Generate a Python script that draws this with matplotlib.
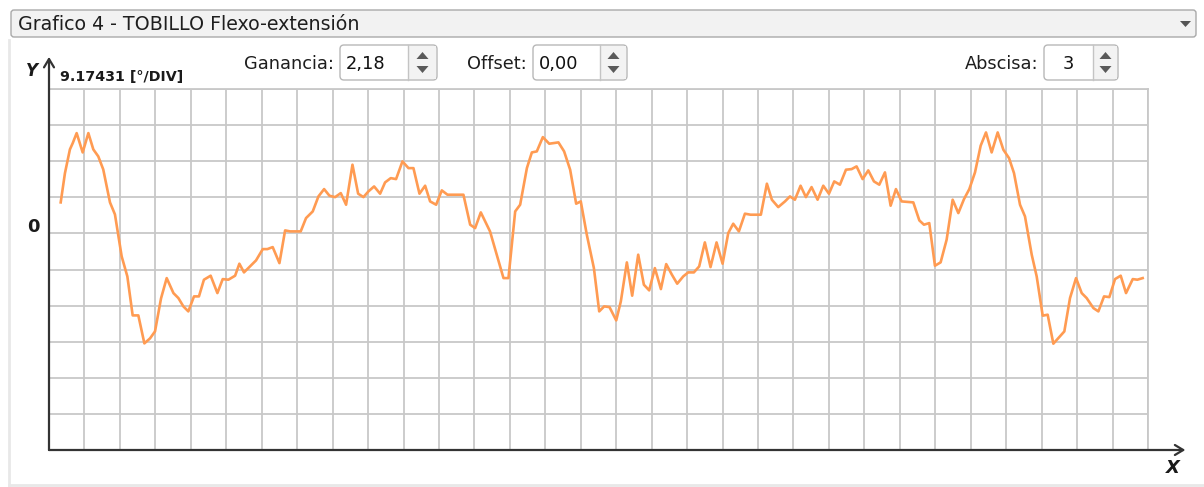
import matplotlib
matplotlib.use("Agg")
import matplotlib.pyplot as plt
import numpy as np
from matplotlib.patches import FancyBboxPatch, Rectangle, Polygon

# ankle flexion-extension trace, x in time divisions, y in degrees
DEG_PER_DIV = 9.17431
t_div = [0.33, 0.45, 0.59, 0.67, 0.78, 0.95, 1.11, 1.25, 1.39, 1.53, 1.72, 1.86,
         2.05, 2.21, 2.36, 2.52, 2.69, 2.85, 2.99, 3.16, 3.32, 3.51, 3.65, 3.79,
         3.93, 4.09, 4.23, 4.37, 4.56, 4.75, 4.90, 5.06, 5.25, 5.37, 5.50, 5.67,
         5.84, 6.03, 6.16, 6.31, 6.50, 6.66, 6.80, 7.10, 7.25, 7.44, 7.60, 7.76,
         7.91, 8.07, 8.23, 8.38, 8.56, 8.72, 8.87, 9.01, 9.17, 9.34, 9.48, 9.64,
         9.79, 9.97, 10.14, 10.28, 10.45, 10.61, 10.75, 10.92, 11.08, 11.24, 11.69,
         11.88, 12.02, 12.18, 12.44, 12.82, 12.96, 13.15, 13.29, 13.48, 13.62,
         13.76, 13.93, 14.11, 14.37, 14.53, 14.70, 14.87, 15.00, 15.17, 15.37,
         15.52, 15.66, 15.81, 16.00, 16.13, 16.30, 16.45, 16.62, 16.78, 16.93,
         17.09, 17.26, 17.41, 17.57, 17.72, 17.89, 18.03, 18.19, 18.34, 18.50,
         18.66, 18.83, 19.00, 19.16, 19.30, 19.46, 19.63, 19.79, 20.08, 20.25,
         20.39, 20.57, 20.76, 20.90, 21.04, 21.20, 21.35, 21.51, 21.68, 21.84,
         22.00, 22.15, 22.31, 22.48, 22.64, 22.78, 22.95, 23.11, 23.27, 23.42,
         23.58, 23.74, 23.89, 24.05, 24.38, 24.55, 24.68, 24.83, 24.99, 25.15,
         25.32, 25.49, 25.65, 25.81, 25.96, 26.12, 26.28, 26.43, 26.59, 26.76,
         26.92, 27.08, 27.22, 27.39, 27.53, 27.72, 27.86, 28.03, 28.17, 28.33,
         28.47, 28.64, 28.80, 28.97, 29.13, 29.27, 29.46, 29.60, 29.76, 29.91,
         30.07, 30.23, 30.38, 30.57, 30.70, 30.85]
angle_deg = [7.88, 15.32, 21.35, 22.95, 25.49, 20.58, 25.49, 21.35, 19.57, 16.26,
             7.88, 4.83, -5.85, -10.93, -20.84, -20.84, -27.95, -26.68, -24.91,
             -16.52, -11.36, -15.17, -16.44, -18.55, -19.82, -16.01, -16.01, -11.77,
             -10.75, -15.17, -11.61, -11.77, -10.75, -7.70, -9.91, -8.39, -6.86,
             -3.99, -3.99, -3.48, -7.55, 0.76, 0.51, 0.51, 3.89, 5.59, 9.40, 11.26,
             9.58, 9.22, 10.24, 7.29, 17.46, 10.09, 9.22, 10.67, 11.94, 10.09, 12.96,
             14.05, 13.80, 18.30, 16.59, 16.59, 10.09, 12.12, 8.13, 7.29, 10.93, 9.83,
             9.83, 2.21, 1.35, 5.34, 0.51, -11.36, -11.36, 5.59, 7.29, 16.59, 20.58,
             20.84, 24.47, 22.79, 23.13, 20.84, 16.19, 7.55, 8.13, -0.33, -8.82,
             -19.82, -18.55, -18.73, -22.11, -17.28, -7.37, -15.83, -5.41, -13.04,
             -14.48, -8.82, -14.15, -7.80, -10.49, -12.78, -10.93, -9.91, -9.91,
             -8.39, -2.29, -8.56, -2.29, -7.70, 0.08, 2.46, 0.51, 5.01, 4.75, 4.75,
             12.63, 8.56, 6.68, 8.13, 9.40, 8.56, 12.12, 9.22, 11.77, 8.56, 12.12,
             10.09, 13.21, 12.38, 16.19, 16.34, 17.03, 13.80, 16.01, 13.21, 12.38,
             15.50, 7.04, 11.26, 8.13, 7.88, 3.30, 2.21, 2.62, -8.21, -7.37, -1.60,
             8.56, 5.16, 8.72, 11.26, 15.50, 22.29, 25.66, 20.58, 25.66, 21.27, 19.13,
             15.32, 7.29, 4.32, -5.41, -10.93, -20.91, -20.66, -28.03, -26.61, -24.91,
             -16.44, -11.36, -15.17, -16.44, -18.98, -19.82, -16.01, -16.19, -11.61,
             -10.75, -15.17, -11.61, -11.77, -11.36]

x_divs = 31
y_divs_below, y_divs_above = 6, 4

title = "Grafico 4 - TOBILLO Flexo-extensión"
gain_text, offset_text, abscissa_text = "2,18", "0,00", "3"

W, H = 1204, 487
UI_FONT = "DejaVu Sans"
UI_SIZE = 12.8

fig = plt.figure(figsize=(W / 100, H / 100), dpi=100)
fig.patch.set_facecolor("white")

# overlay in pixel coordinates for the widgets
ui = fig.add_axes([0, 0, 1, 1], zorder=0)
ui.set_xlim(0, W)
ui.set_ylim(H, 0)
ui.axis("off")

# panel frame
ui.plot([9, 9], [40, 485], color="#e8e8e8", lw=2)
ui.plot([9, 1204], [485, 485], color="#e8e8e8", lw=2)

# combo box with the chart title
ui.add_patch(FancyBboxPatch((11, 10), 1185, 27, boxstyle="round,pad=0,rounding_size=3",
                            fc="#f2f2f2", ec="#a9a9a9", lw=1))
ui.text(18, 24, title, fontsize=13.7, family=UI_FONT, va="center", ha="left", color="#1e1e1e")
ui.add_patch(Polygon([[1180, 21], [1191, 21], [1185.5, 27]], closed=True, fc="#555555", ec="none"))


def spin_box(label, label_right, x0, x_div, x1, value, value_x, value_ha):
    y0, y1 = 45, 80
    ui.text(label_right, 64, label, fontsize=UI_SIZE, family=UI_FONT, ha="right", va="center",
            color="#1e1e1e")
    ui.add_patch(FancyBboxPatch((x0, y0), x1 - x0, y1 - y0, boxstyle="round,pad=0,rounding_size=4",
                                fc="white", ec="#b8b8b8", lw=1))
    ui.add_patch(Rectangle((x_div, y0 + 1), x1 - x_div - 1, y1 - y0 - 2, fc="#f3f3f3", ec="none"))
    ui.plot([x_div, x_div], [y0, y1], color="#c4c4c4", lw=1)
    ui.text(value_x, 64, value, fontsize=UI_SIZE, family=UI_FONT, ha=value_ha, va="center",
            color="#111111")
    cx = (x_div + x1) / 2
    ui.add_patch(Polygon([[cx - 6, 59], [cx + 6, 59], [cx, 52]], closed=True, fc="#5a5a5a", ec="none"))
    ui.add_patch(Polygon([[cx - 6, 66], [cx + 6, 66], [cx, 73]], closed=True, fc="#5a5a5a", ec="none"))


spin_box("Ganancia:", 334, 340, 408, 437, gain_text, 346, "left")
spin_box("Offset:", 527, 533, 600, 627, offset_text, 539, "left")
spin_box("Abscisa:", 1038, 1044, 1093, 1118, abscissa_text, 1068, "center")

# plotting grid
left, right, top, bottom = 49, 1148, 89, 450
ax = fig.add_axes([left / W, 1 - bottom / H, (right - left) / W, (bottom - top) / H], zorder=1)
ax.set_facecolor("white")
ax.set_xlim(0, x_divs)
ax.set_ylim(-y_divs_below * DEG_PER_DIV, y_divs_above * DEG_PER_DIV)
ax.set_xticks(np.arange(0, x_divs + 1))
ax.set_yticks(DEG_PER_DIV * np.arange(-y_divs_below, y_divs_above + 1))
ax.grid(True, color="#c8c8c8", lw=1.3)
ax.tick_params(length=0, labelleft=False, labelbottom=False)
for side in ("top", "right"):
    ax.spines[side].set_color("#c8c8c8")
    ax.spines[side].set_linewidth(1.3)
for side in ("left", "bottom"):
    ax.spines[side].set_visible(False)

ax.plot(t_div, angle_deg, color="#ff9b52", lw=1.9, solid_joinstyle="round", zorder=3)

# axes with arrow heads
arrow = dict(arrowstyle="->,head_length=0.5,head_width=0.3", color="#333333", lw=1.6,
             shrinkA=0, shrinkB=0, mutation_scale=12)
ax.annotate("", xy=(1.034, 0), xytext=(0, 0), xycoords="axes fraction",
            textcoords="axes fraction", arrowprops=arrow, annotation_clip=False)
ax.annotate("", xy=(0, 1.089), xytext=(0, 0), xycoords="axes fraction",
            textcoords="axes fraction", arrowprops=arrow, annotation_clip=False)

ui.text(32, 71, "Y", fontsize=12, fontweight="bold", style="italic", ha="center", va="center",
        color="#1a1a1a")
ui.text(1173, 468, "X", fontsize=13, fontweight="bold", style="italic", ha="center", va="center",
        color="#1a1a1a")
ui.text(60, 77, f"{DEG_PER_DIV:.5f} [°/DIV]", fontsize=10.3, fontweight="bold", ha="left",
        va="center", color="#1a1a1a")
ui.text(33, 227, "0", fontsize=13, fontweight="bold", ha="center", va="center", color="#1a1a1a")

fig.savefig("out.png", dpi=100)
